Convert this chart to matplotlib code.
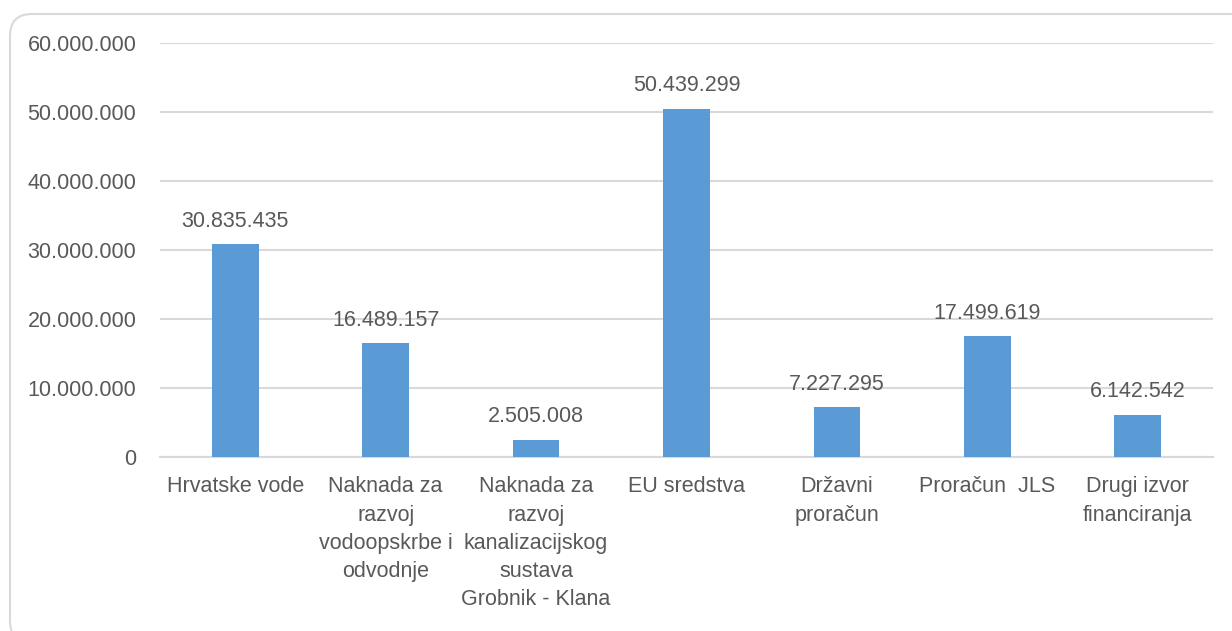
import matplotlib
matplotlib.use("Agg")
import matplotlib.pyplot as plt
from matplotlib.patches import FancyBboxPatch
from matplotlib.ticker import FuncFormatter

### DATA ###
categories = [
    "Hrvatske vode",
    "Naknada za\nrazvoj\nvodoopskrbe i\nodvodnje",
    "Naknada za\nrazvoj\nkanalizacijskog\nsustava\nGrobnik - Klana",
    "EU sredstva",
    "Državni\nproračun",
    "Proračun  JLS",
    "Drugi izvor\nfinanciranja",
]
values = [30835435, 16489157, 2505008, 50439299, 7227295, 17499619, 6142542]
y_ticks = [0, 10000000, 20000000, 30000000, 40000000, 50000000, 60000000]

BAR = "#5B9BD5"
TXT = "#595959"
GRID = "#D9D9D9"


def dots(v):
    # thousands separator with dots
    return f"{int(round(v)):,}".replace(",", ".")


plt.rcParams["font.family"] = ["Liberation Sans", "DejaVu Sans"]

fig = plt.figure(figsize=(12.32, 6.31), dpi=100, facecolor="w")
ax = fig.add_axes([160 / 1232, 1 - 457 / 631, 1053 / 1232, 414 / 631])

x = list(range(len(categories)))
ax.bar(x, values, width=0.31, color=BAR, zorder=3)

for xi, v in zip(x, values):
    ax.annotate(dots(v), (xi, v), xytext=(0, 9), textcoords="offset points",
                ha="center", va="bottom", fontsize=15.5, color=TXT)

ax.set_xlim(-0.5, len(categories) - 0.5)
ax.set_ylim(0, 60000000)
ax.set_yticks(y_ticks)
ax.yaxis.set_major_formatter(FuncFormatter(lambda v, p: dots(v)))
ax.set_xticks(x)
ax.set_xticklabels(categories, fontsize=15.5, color=TXT, linespacing=1.45)
ax.tick_params(axis="y", length=0, pad=17, labelsize=15.5, labelcolor=TXT)
ax.tick_params(axis="x", length=0, pad=14)

ax.grid(axis="y", color=GRID, linewidth=1.5, zorder=0)
for s in ["top", "right", "left"]:
    ax.spines[s].set_visible(False)
ax.spines["bottom"].set_color(GRID)
ax.spines["bottom"].set_linewidth(1.5)

# rounded chart border
border = FancyBboxPatch((10, -12), 1245, 629, boxstyle="round,pad=0,rounding_size=22",
                        transform=None, facecolor="none", edgecolor=GRID, linewidth=1.5)
fig.patches.append(border)

fig.savefig("out.png", dpi=100)
